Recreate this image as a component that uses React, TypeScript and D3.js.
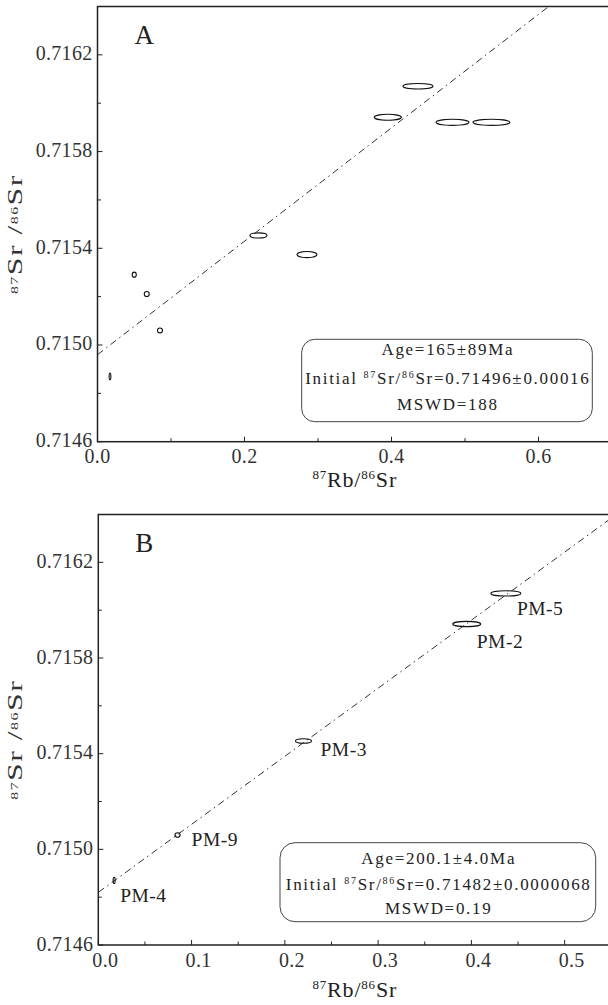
import React from 'react';
import * as d3 from 'd3';

const LAMBDA = 1.42e-11;
const FONT = '"Liberation Serif", "Times New Roman", serif';

// Panel A data (87Rb/86Sr, 87Sr/86Sr, half error widths)
const rbSrA = [0.017, 0.05, 0.067, 0.085, 0.219, 0.285, 0.395, 0.436, 0.483, 0.536];
const srSrA = [0.71487, 0.715291, 0.715211, 0.71506, 0.715453, 0.715374, 0.715942, 0.71607, 0.715921, 0.715921];
const errXA = [0.0012, 0.0028, 0.0034, 0.0034, 0.0116, 0.0136, 0.0184, 0.0204, 0.0224, 0.0252];
const errYA = [0.000014, 0.0000105, 0.0000105, 0.00001, 0.0000105, 0.0000125, 0.0000125, 0.0000115, 0.0000125, 0.0000125];
const isoA = { age: 165, ageErr: 89, sri: 0.71496, sriErr: '0.00016', mswd: '188' };

// Panel B data
const samplesB = ['PM-4', 'PM-9', 'PM-3', 'PM-2', 'PM-5'];
const rbSrB = [0.017, 0.085, 0.22, 0.395, 0.437];
const srSrB = [0.71487, 0.71506, 0.715453, 0.715942, 0.71607];
const errXB = [0.0011, 0.0027, 0.0086, 0.015, 0.0161];
const errYB = [0.000013, 0.0000095, 0.0000095, 0.000011, 0.000011];
const isoB = { age: 200.1, ageErr: 4.0, sri: 0.71482, sriErr: '0.0000068', mswd: '0.19' };

// Ticks
const yTicks = [0.7146, 0.715, 0.7154, 0.7158, 0.7162];
const yMinor = [0.7148, 0.7152, 0.7156, 0.716];
const xTicksA = [0, 0.2, 0.4, 0.6];
const xMinorA = [0.1, 0.3, 0.5];
const xTicksB = [0, 0.1, 0.2, 0.3, 0.4, 0.5];
const xMinorB = [0.05, 0.15, 0.25, 0.35, 0.45];

// label offsets (px) for panel B sample names
const labelOffB = [[6, 22], [14, 11], [17, 15], [10, 24], [11, 22]];

type PanelProps = {
  id: string;
  letter: string;
  xDom: [number, number];
  xRange: [number, number];
  yRange: [number, number];
  xs: number[];
  ys: number[];
  ex: number[];
  ey: number[];
  iso: { age: number; ageErr: number; sri: number; sriErr: string; mswd: string };
  xTicks: number[];
  xMinor: number[];
  xLabelDx: number;
  xLabelDy: number;
  xTitleDy: number;
  box: { x: number; y: number; w: number; h: number; r: number; lines: number[] };
  labels?: string[];
  labelOff?: number[][];
  ageFmt: (a: number, e: number) => string;
};

function Panel(p: PanelProps) {
  const x = d3.scaleLinear().domain(p.xDom).range(p.xRange);
  const y = d3.scaleLinear().domain([0.7146, 0.7164]).range(p.yRange);
  const [x0, x1] = p.xRange;
  const [yb, yt] = p.yRange;
  const slope = Math.exp(LAMBDA * p.iso.age * 1e6) - 1;
  const xEnd = Math.min(p.xDom[1], (0.7164 - p.iso.sri) / slope);
  const line = d3.line<number>().x((d) => x(d)).y((d) => y(p.iso.sri + slope * d));
  const axisStroke = '#222';
  const cx = (p.box.x + p.box.w / 2);
  const ls = 1.7;
  return (
    <g fontFamily={FONT} fill="#222">
      <defs>
        <clipPath id={'clip' + p.id}>
          <rect x={x0} y={yt} width={x1 - x0} height={yb - yt} />
        </clipPath>
      </defs>
      {/* frame */}
      <rect x={x0} y={yt} width={x1 - x0} height={yb - yt} fill="none" stroke={axisStroke} strokeWidth={1.5} />
      {/* y ticks */}
      {yTicks.map((t) => (
        <g key={'yt' + t}>
          <line x1={x0} x2={x0 + 5} y1={y(t)} y2={y(t)} stroke={axisStroke} strokeWidth={1} />
          <text x={x0 - 5} y={y(t) + 5.5} fontSize={20} textAnchor="end" letterSpacing={0.3} fill="#333">{t.toFixed(4)}</text>
        </g>
      ))}
      {yMinor.map((t) => (
        <line key={'ym' + t} x1={x0} x2={x0 + 3.5} y1={y(t)} y2={y(t)} stroke={axisStroke} strokeWidth={1} />
      ))}
      {/* x ticks */}
      {p.xTicks.map((t) => (
        <g key={'xt' + t}>
          <line x1={x(t)} x2={x(t)} y1={yb} y2={yb - 5} stroke={axisStroke} strokeWidth={1} />
          <text x={x(t) + p.xLabelDx} y={yb + p.xLabelDy} fontSize={20} textAnchor="middle" letterSpacing={0.3} fill="#333">{t.toFixed(1)}</text>
        </g>
      ))}
      {p.xMinor.map((t) => (
        <line key={'xm' + t} x1={x(t)} x2={x(t)} y1={yb} y2={yb - 3.5} stroke={axisStroke} strokeWidth={1} />
      ))}
      {/* panel letter */}
      <text x={x0 + 37} y={yt + 37} fontSize={27}>{p.letter}</text>
      {/* regression line */}
      <g clipPath={`url(#clip${p.id})`}>
        <path d={line([0, xEnd]) || ''} fill="none" stroke="#333" strokeWidth={1} strokeDasharray="7,4,1.5,4" />
        {p.xs.map((d, i) => (
          <ellipse key={'e' + i} cx={x(d)} cy={y(p.ys[i])} rx={x(p.ex[i]) - x(0)} ry={y(0.7146) - y(0.7146 + p.ey[i])}
            fill="none" stroke="#111" strokeWidth={1.1} />
        ))}
      </g>
      {p.labels && p.labels.map((s, i) => (
        <text key={'l' + i} x={x(p.xs[i]) + p.labelOff![i][0]} y={y(p.ys[i]) + p.labelOff![i][1]} fontSize={19.5} letterSpacing={0.5}>{s}</text>
      ))}
      {/* info box */}
      <rect x={p.box.x} y={p.box.y} width={p.box.w} height={p.box.h} rx={p.box.r} ry={p.box.r} fill="white" stroke="#444" strokeWidth={1} />
      <text x={cx + ls / 2} y={p.box.lines[0]} fontSize={17} textAnchor="middle" letterSpacing={ls}>{p.ageFmt(p.iso.age, p.iso.ageErr)}</text>
      <text x={cx + ls / 2} y={p.box.lines[1]} fontSize={17} textAnchor="middle" letterSpacing={ls}>
        Initial <tspan fontSize={10} dy={-6}>87</tspan><tspan dy={6}>Sr/</tspan><tspan fontSize={10} dy={-6}>86</tspan><tspan dy={6}>Sr={p.iso.sri.toFixed(5)}±{p.iso.sriErr}</tspan>
      </text>
      <text x={cx + ls / 2} y={p.box.lines[2]} fontSize={17} textAnchor="middle" letterSpacing={ls}>MSWD={p.iso.mswd}</text>
      {/* axis titles */}
      <text x={(x0 + x1) / 2} y={yb + p.xTitleDy} fontSize={22} textAnchor="middle" letterSpacing={0.8}>
        <tspan fontSize={13} dy={-8}>87</tspan><tspan dy={8}>Rb/</tspan><tspan fontSize={13} dy={-8}>86</tspan><tspan dy={8}>Sr</tspan>
      </text>
      <g transform={`translate(22, ${(yb + yt) / 2 + 10}) rotate(-90) scale(1.45,1)`}>
        <text x={0} y={0} fontSize={22} textAnchor="middle" letterSpacing={1} fill="#333">
          <tspan fontSize={11} dy={-4}>87</tspan><tspan dy={4}>Sr /</tspan><tspan fontSize={11} dy={-4}>86</tspan><tspan dy={4}>Sr</tspan>
        </text>
      </g>
    </g>
  );
}

export default function App() {
  return (
    <svg width={608} height={1005} style={{ position: 'absolute', left: 0, top: 0, background: 'white' }}>
      <rect x={0} y={0} width={608} height={1005} fill="white" />
      <Panel
        id="A" letter="A" xDom={[0, 0.7]} xRange={[97.5, 612]} yRange={[441.7, 6.5]}
        xs={rbSrA} ys={srSrA} ex={errXA} ey={errYA} iso={isoA}
        xTicks={xTicksA} xMinor={xMinorA} xLabelDx={0} xLabelDy={21} xTitleDy={45}
        box={{ x: 301.7, y: 339.3, w: 290.6, h: 82.4, r: 13, lines: [355, 384, 410] }}
        ageFmt={(a, e) => `Age=${a}±${e}Ma`}
      />
      <Panel
        id="B" letter="B" xDom={[0, 0.55]} xRange={[98.3, 611.3]} yRange={[945, 514.5]}
        xs={rbSrB} ys={srSrB} ex={errXB} ey={errYB} iso={isoB}
        xTicks={xTicksB} xMinor={xMinorB} xLabelDx={7} xLabelDy={22} xTitleDy={52}
        box={{ x: 280, y: 842.7, w: 315.7, h: 79, r: 15, lines: [864, 889.5, 914] }}
        labels={samplesB} labelOff={labelOffB}
        ageFmt={(a, e) => `Age=${a.toFixed(1)}±${e.toFixed(1)}Ma`}
      />
    </svg>
  );
}
